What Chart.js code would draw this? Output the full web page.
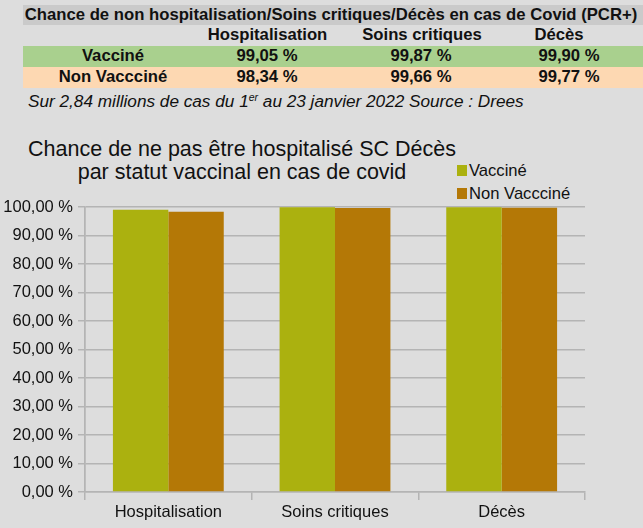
<!DOCTYPE html>
<html><head><meta charset="utf-8">
<script src="https://cdn.jsdelivr.net/npm/chart.js@4"></script>
<style>
html,body{margin:0;padding:0;background:#dddddd;width:643px;height:528px;overflow:hidden;font-family:"Liberation Sans",Arial,sans-serif;}
.abs{position:absolute;white-space:nowrap;}
.c{text-align:center;}
#tbl div{font-weight:bold;font-size:16.7px;color:#111;}
.bg{position:absolute;}
#title{position:absolute;left:0;width:484px;top:138px;text-align:center;font-size:21.5px;line-height:23px;color:#111;}
#legend{position:absolute;left:457px;top:159px;font-size:16.6px;color:#111;}
#legend .it{height:23px;display:flex;align-items:center;}
#legend .sw{width:10px;height:11px;margin-right:2px;}
#cv{position:absolute;left:0;top:0;}
</style></head>
<body>
<div class="bg" style="left:23px;top:5px;width:620px;height:20px;background:#cacaca"></div>
<div class="bg" style="left:23px;top:46px;width:620px;height:21px;background:#a9d08e"></div>
<div class="bg" style="left:23px;top:67px;width:620px;height:21px;background:#fdd8b2"></div>
<div id="tbl"></div>
<div class="abs" style="left:28px;top:91px;font-size:17.2px;font-style:italic;color:#111">Sur 2,84 millions de cas du 1<sup style="font-size:10.5px;vertical-align:6px;line-height:0">er</sup> au 23 janvier 2022 Source : Drees</div>
<div id="title">Chance de ne pas être hospitalisé SC Décès<br>par statut vaccinal en cas de covid</div>
<div id="legend"></div>
<canvas id="cv" width="643" height="528"></canvas>
<script>
const tableTitle = "Chance de non hospitalisation/Soins critiques/Décès en cas de Covid (PCR+)";
const categories = ["Hospitalisation", "Soins critiques", "Décès"];
const seriesNames = ["Vacciné", "Non Vaccciné"];
const vaccine = [99.05, 99.87, 99.90];
const nonVaccine = [98.34, 99.66, 99.77];
const yTicks = [0,10,20,30,40,50,60,70,80,90,100];
const colors = ["#abb10f", "#b47806"];

function fmt(v){ return v.toFixed(2).replace('.', ',') + ' %'; }

// table
const tbl = document.getElementById('tbl');
function cell(text, cx, cy, w){
  const d = document.createElement('div');
  d.className='abs c';
  d.style.left=(cx-w/2)+'px'; d.style.width=w+'px';
  d.style.top=(cy-10)+'px'; d.style.lineHeight='20px';
  d.textContent=text; tbl.appendChild(d);
}
cell(tableTitle, 331, 15, 640);
const colX = [267, 421, 569];
categories.forEach((c,i)=>cell(c, [267.5,422,559][i], 35, 170));
cell(seriesNames[0], 113, 56, 170);
cell(seriesNames[1], 113, 77, 170);
vaccine.forEach((v,i)=>cell(fmt(v), colX[i], 56, 120));
nonVaccine.forEach((v,i)=>cell(fmt(v), colX[i], 77, 120));

// legend
const lg = document.getElementById('legend');
seriesNames.forEach((n,i)=>{
  const it=document.createElement('div'); it.className='it';
  it.innerHTML='<span class="sw" style="background:'+colors[i]+'"></span><span>'+n+'</span>';
  lg.appendChild(it);
});

const gridCol = '#b4b4b4';
const tickFont = {family: 'Liberation Sans', size: 16.5};
new Chart(document.getElementById('cv'), {
  type: 'bar',
  data: {
    labels: categories,
    datasets: [
      {label: seriesNames[0], data: vaccine, backgroundColor: colors[0], categoryPercentage: 0.665, barPercentage: 1},
      {label: seriesNames[1], data: nonVaccine, backgroundColor: colors[1], categoryPercentage: 0.665, barPercentage: 1}
    ]
  },
  options: {
    responsive: false, animation: false,
    devicePixelRatio: 1,
    layout: {padding: {left: 0, top: 207, right: 58, bottom: 0}},
    plugins: {legend: {display: false}, title: {display: false}, tooltip: {enabled: false}},
    scales: {
      x: {
        grid: {offset: true, color: (ctx)=> (ctx.index===0||ctx.index===categories.length) ? gridCol : 'rgba(0,0,0,0)', tickColor: gridCol, lineWidth: 1.5, tickLength: 8},
        border: {display: true, color: gridCol, width: 1.5},
        ticks: {color: '#111', font: tickFont, padding: 3},
        afterFit: (s)=>{ s.height = 36; }
      },
      y: {
        min: 0, max: 100,
        afterBuildTicks: (s)=>{ s.ticks = yTicks.map(v=>({value:v})); },
        grid: {color: gridCol, lineWidth: 1.5, tickLength: 7},
        border: {display: true, color: gridCol, width: 1.5},
        ticks: {color: '#111', font: tickFont, padding: 5, callback: (v)=>fmt(v)},
        afterFit: (s)=>{ s.width = 85; }
      }
    }
  }
});
</script>
</body></html>
